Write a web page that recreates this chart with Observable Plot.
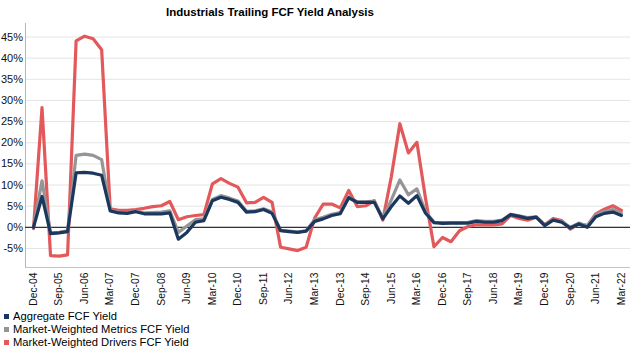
<!DOCTYPE html>
<html><head><meta charset="utf-8">
<script src="https://cdn.jsdelivr.net/npm/d3@7"></script>
<script src="https://cdn.jsdelivr.net/npm/@observablehq/plot@0.6"></script>
<style>
body{margin:0;background:#fff;font-family:"Liberation Sans",Arial,sans-serif;color:#000;}
#title{box-sizing:border-box;height:23px;padding-top:5px;line-height:14px;font-size:11.5px;font-weight:bold;text-align:center;width:540px;}
#chart svg{display:block;}
#legend{font-size:11.2px;}
.row{height:13px;line-height:13px;position:relative;padding-left:13px;white-space:nowrap;}
.sw{position:absolute;left:4px;top:4px;width:5px;height:5px;}
</style></head>
<body>
<div id="title">Industrials Trailing FCF Yield Analysis</div>
<div id="chart"></div>
<div id="legend"></div>
<script>
const quarters = ["Dec-04",
 "Mar-05","Jun-05","Sep-05","Dec-05","Mar-06","Jun-06","Sep-06","Dec-06",
 "Mar-07","Jun-07","Sep-07","Dec-07","Mar-08","Jun-08","Sep-08","Dec-08",
 "Mar-09","Jun-09","Sep-09","Dec-09","Mar-10","Jun-10","Sep-10","Dec-10",
 "Mar-11","Jun-11","Sep-11","Dec-11","Mar-12","Jun-12","Sep-12","Dec-12",
 "Mar-13","Jun-13","Sep-13","Dec-13","Mar-14","Jun-14","Sep-14","Dec-14",
 "Mar-15","Jun-15","Sep-15","Dec-15","Mar-16","Jun-16","Sep-16","Dec-16",
 "Mar-17","Jun-17","Sep-17","Dec-17","Mar-18","Jun-18","Sep-18","Dec-18",
 "Mar-19","Jun-19","Sep-19","Dec-19","Mar-20","Jun-20","Sep-20","Dec-20",
 "Mar-21","Jun-21","Sep-21","Dec-21","Mar-22"];

const seriesNames = ["Aggregate FCF Yield","Market-Weighted Metrics FCF Yield","Market-Weighted Drivers FCF Yield"];
const seriesColors = ["#1c375e","#959595","#e3585b"];

const aggregate = [0,7.3,-1.5,-1.3,-1.0,12.9,13.0,12.8,12.3,
 3.9,3.4,3.3,3.7,3.2,3.2,3.2,3.4,-2.8,-1.2,1.2,1.6,
 6.3,7.1,6.6,5.9,3.6,3.7,4.2,3.3,-0.8,-1.0,-1.2,-0.9,
 1.4,2.0,2.8,3.2,7.0,5.9,5.9,5.9,2.0,4.9,7.4,5.7,7.5,3.4,
 1.1,0.95,1.0,1.0,1.0,1.4,1.2,1.2,1.6,3.0,2.6,2.1,2.4,0.4,
 1.7,1.2,-0.15,0.8,0.0,2.5,3.3,3.6,2.8];
const metrics = [0.2,11,-1.3,-1.2,-0.8,17.0,17.3,17.0,16.0,
 4.1,3.6,3.5,3.8,3.4,3.5,3.6,3.9,-1.2,0.3,1.8,2.0,
 6.6,7.5,6.9,6.2,3.8,3.9,4.4,3.6,-0.7,-0.9,-1.1,-0.8,
 1.8,2.4,3.1,3.5,7.2,6.0,6.0,6.2,2.2,6.5,11.2,7.7,9.1,3.8,
 1.2,1.1,1.1,1.1,1.2,1.6,1.4,1.4,1.7,3.1,2.7,2.3,2.5,0.6,
 1.8,1.4,0.0,1.0,0.3,3.0,3.8,4.2,3.3];
const drivers = [-0.3,28.3,-6.7,-6.8,-6.5,44.1,45.2,44.6,42.0,
 4.4,4.0,4.0,4.2,4.5,4.9,5.1,6.1,1.8,2.5,2.8,3.0,
 10.3,11.5,10.4,9.5,5.8,5.9,7.1,5.9,-4.7,-5.1,-5.5,-4.7,
 2.2,5.5,5.5,4.6,8.7,4.9,5.1,6.3,1.7,12.0,24.5,17.6,20.1,7.0,
 -4.6,-2.4,-3.4,-0.8,0.2,0.6,0.6,0.6,0.8,2.8,2.1,1.7,2.4,0.6,
 2.1,1.6,-0.4,0.8,0.4,3.2,4.3,5.1,4.0];

const yTicks = [-5,0,5,10,15,20,25,30,35,40,45];
const xTicks = d3.range(0, quarters.length, 3);

const toRows = arr => arr.map((v, i) => ({i, v}));
const yMin = -9.5, yMax = 48.2;

const chart = Plot.plot({
  width: 630,
  height: 287,
  marginLeft: 25,
  marginRight: 0,
  marginTop: 0,
  marginBottom: 43,
  style: {fontFamily: '"Liberation Sans", Arial, sans-serif', color: "#111", background: "#fff"},
  x: {type: "linear", domain: [-0.94, 70.07]},
  y: {domain: [yMin, yMax]},
  marks: [
    Plot.gridY(yTicks, {stroke: "#e4e4e4", strokeOpacity: 1, strokeWidth: 1}),
    Plot.ruleX([-0.94], {stroke: "#b5b5b5", strokeWidth: 1}),
    Plot.ruleY([yMin], {stroke: "#c4c4c4", strokeWidth: 1.2}),
    Plot.ruleY([0], {stroke: "#333", strokeWidth: 1.3}),
    Plot.line(toRows(drivers), {x: "i", y: "v", stroke: seriesColors[2], strokeWidth: 3.2, strokeLinejoin: "round"}),
    Plot.line(toRows(metrics), {x: "i", y: "v", stroke: seriesColors[1], strokeWidth: 3.2, strokeLinejoin: "round"}),
    Plot.line(toRows(aggregate), {x: "i", y: "v", stroke: seriesColors[0], strokeWidth: 3.2, strokeLinejoin: "round"}),
    Plot.axisY({ticks: yTicks, tickFormat: d => d + "%", tickSize: 0, tickPadding: 2.5, fontSize: 11, label: null}),
    Plot.axisX({ticks: xTicks, tickFormat: i => quarters[i], tickSize: 0, tickPadding: 5, tickRotate: -90, fontSize: 10.3, label: null})
  ]
});
document.getElementById("chart").appendChild(chart);

const legend = document.getElementById("legend");
seriesNames.forEach((name, k) => {
  const row = document.createElement("div");
  row.className = "row";
  const sw = document.createElement("span");
  sw.className = "sw";
  sw.style.background = seriesColors[k];
  row.appendChild(sw);
  row.appendChild(document.createTextNode(name));
  legend.appendChild(row);
});
</script>
</body></html>
